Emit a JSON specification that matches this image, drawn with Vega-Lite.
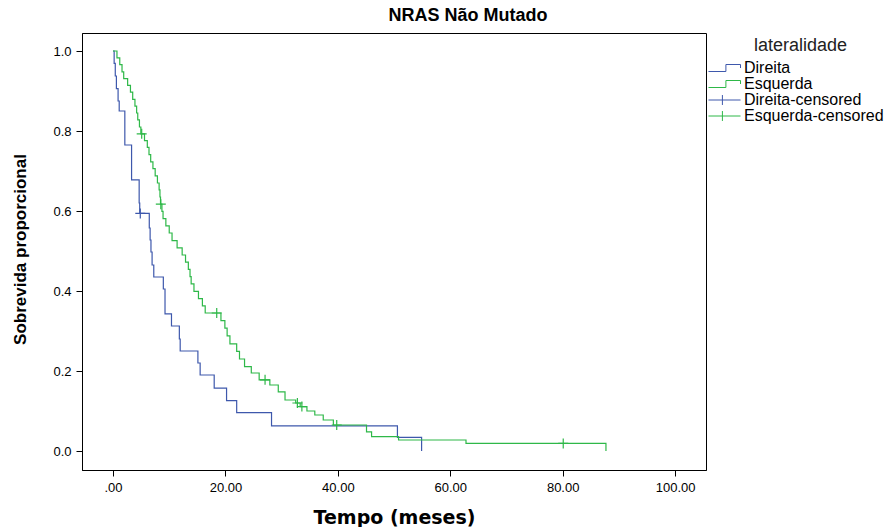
{
  "$schema": "https://vega.github.io/schema/vega-lite/v6.json",
  "autosize": "none",
  "width": 624,
  "height": 437,
  "padding": {"left": 82, "top": 33, "right": 185, "bottom": 57},
  "background": "white",
  "title": {
    "text": "NRAS Não Mutado",
    "font": "Liberation Sans",
    "fontSize": 18,
    "fontWeight": "bold",
    "color": "#000000",
    "anchor": "middle",
    "dx": 74,
    "offset": 8
  },
  "datasets": {
    "curvas": [
      {"grupo": "Direita", "t": 0, "s": 1.0},
      {"grupo": "Direita", "t": 0.2, "s": 0.969},
      {"grupo": "Direita", "t": 0.4, "s": 0.9375},
      {"grupo": "Direita", "t": 0.6, "s": 0.906},
      {"grupo": "Direita", "t": 0.9, "s": 0.875},
      {"grupo": "Direita", "t": 1.1, "s": 0.85},
      {"grupo": "Direita", "t": 2.1, "s": 0.765},
      {"grupo": "Direita", "t": 3.3, "s": 0.678},
      {"grupo": "Direita", "t": 4.65, "s": 0.62},
      {"grupo": "Direita", "t": 4.75, "s": 0.594},
      {"grupo": "Direita", "t": 6.45, "s": 0.5575},
      {"grupo": "Direita", "t": 6.6, "s": 0.5275},
      {"grupo": "Direita", "t": 6.75, "s": 0.4975},
      {"grupo": "Direita", "t": 6.95, "s": 0.465},
      {"grupo": "Direita", "t": 7.25, "s": 0.435},
      {"grupo": "Direita", "t": 8.95, "s": 0.405},
      {"grupo": "Direita", "t": 9.25, "s": 0.343},
      {"grupo": "Direita", "t": 10.4, "s": 0.3125},
      {"grupo": "Direita", "t": 11.8, "s": 0.28},
      {"grupo": "Direita", "t": 11.95, "s": 0.25},
      {"grupo": "Direita", "t": 15.1, "s": 0.22},
      {"grupo": "Direita", "t": 15.5, "s": 0.19},
      {"grupo": "Direita", "t": 18.0, "s": 0.157},
      {"grupo": "Direita", "t": 20.2, "s": 0.126},
      {"grupo": "Direita", "t": 22.0, "s": 0.096},
      {"grupo": "Direita", "t": 28.2, "s": 0.063},
      {"grupo": "Direita", "t": 50.6, "s": 0.034},
      {"grupo": "Direita", "t": 54.9, "s": 0.0},
      {"grupo": "Esquerda", "t": 0, "s": 1.0},
      {"grupo": "Esquerda", "t": 0.7, "s": 0.983},
      {"grupo": "Esquerda", "t": 1.2, "s": 0.966},
      {"grupo": "Esquerda", "t": 1.6, "s": 0.948},
      {"grupo": "Esquerda", "t": 1.9, "s": 0.931},
      {"grupo": "Esquerda", "t": 2.6, "s": 0.914},
      {"grupo": "Esquerda", "t": 3.1, "s": 0.897},
      {"grupo": "Esquerda", "t": 3.5, "s": 0.879},
      {"grupo": "Esquerda", "t": 3.9, "s": 0.862},
      {"grupo": "Esquerda", "t": 4.2, "s": 0.845},
      {"grupo": "Esquerda", "t": 4.4, "s": 0.828},
      {"grupo": "Esquerda", "t": 4.7, "s": 0.81},
      {"grupo": "Esquerda", "t": 4.95, "s": 0.793},
      {"grupo": "Esquerda", "t": 5.6, "s": 0.776},
      {"grupo": "Esquerda", "t": 6.1, "s": 0.759},
      {"grupo": "Esquerda", "t": 6.4, "s": 0.741},
      {"grupo": "Esquerda", "t": 6.7, "s": 0.723},
      {"grupo": "Esquerda", "t": 7.1, "s": 0.706},
      {"grupo": "Esquerda", "t": 7.5, "s": 0.688},
      {"grupo": "Esquerda", "t": 7.9, "s": 0.67},
      {"grupo": "Esquerda", "t": 8.2, "s": 0.653},
      {"grupo": "Esquerda", "t": 8.35, "s": 0.635},
      {"grupo": "Esquerda", "t": 8.45, "s": 0.617},
      {"grupo": "Esquerda", "t": 8.7, "s": 0.599},
      {"grupo": "Esquerda", "t": 8.9, "s": 0.581},
      {"grupo": "Esquerda", "t": 9.4, "s": 0.563},
      {"grupo": "Esquerda", "t": 10.0, "s": 0.545},
      {"grupo": "Esquerda", "t": 10.5, "s": 0.526},
      {"grupo": "Esquerda", "t": 11.4, "s": 0.508},
      {"grupo": "Esquerda", "t": 12.3, "s": 0.49},
      {"grupo": "Esquerda", "t": 12.9, "s": 0.472},
      {"grupo": "Esquerda", "t": 13.4, "s": 0.454},
      {"grupo": "Esquerda", "t": 13.7, "s": 0.436},
      {"grupo": "Esquerda", "t": 13.9, "s": 0.418},
      {"grupo": "Esquerda", "t": 14.4, "s": 0.399},
      {"grupo": "Esquerda", "t": 15.2, "s": 0.381},
      {"grupo": "Esquerda", "t": 15.9, "s": 0.363},
      {"grupo": "Esquerda", "t": 16.4, "s": 0.345},
      {"grupo": "Esquerda", "t": 19.2, "s": 0.326},
      {"grupo": "Esquerda", "t": 19.9, "s": 0.307},
      {"grupo": "Esquerda", "t": 20.3, "s": 0.288},
      {"grupo": "Esquerda", "t": 20.8, "s": 0.268},
      {"grupo": "Esquerda", "t": 22.0, "s": 0.249},
      {"grupo": "Esquerda", "t": 22.5, "s": 0.23},
      {"grupo": "Esquerda", "t": 23.4, "s": 0.211},
      {"grupo": "Esquerda", "t": 24.6, "s": 0.195},
      {"grupo": "Esquerda", "t": 26.0, "s": 0.178},
      {"grupo": "Esquerda", "t": 27.9, "s": 0.165},
      {"grupo": "Esquerda", "t": 29.4, "s": 0.148},
      {"grupo": "Esquerda", "t": 30.6, "s": 0.1275},
      {"grupo": "Esquerda", "t": 32.5, "s": 0.12},
      {"grupo": "Esquerda", "t": 33.3, "s": 0.111},
      {"grupo": "Esquerda", "t": 34.5, "s": 0.1},
      {"grupo": "Esquerda", "t": 35.9, "s": 0.09},
      {"grupo": "Esquerda", "t": 37.4, "s": 0.0775},
      {"grupo": "Esquerda", "t": 39.2, "s": 0.065},
      {"grupo": "Esquerda", "t": 45.1, "s": 0.048},
      {"grupo": "Esquerda", "t": 46.0, "s": 0.036},
      {"grupo": "Esquerda", "t": 50.8, "s": 0.0275},
      {"grupo": "Esquerda", "t": 62.8, "s": 0.019},
      {"grupo": "Esquerda", "t": 87.7, "s": 0.0}
    ],
    "censurados": [
      {"grupo": "Direita-censored", "t": 4.85, "s": 0.594},
      {"grupo": "Esquerda-censored", "t": 5.1, "s": 0.793},
      {"grupo": "Esquerda-censored", "t": 8.5, "s": 0.617},
      {"grupo": "Esquerda-censored", "t": 18.45, "s": 0.345},
      {"grupo": "Esquerda-censored", "t": 27.05, "s": 0.178},
      {"grupo": "Esquerda-censored", "t": 32.8, "s": 0.12},
      {"grupo": "Esquerda-censored", "t": 33.6, "s": 0.111},
      {"grupo": "Esquerda-censored", "t": 39.8, "s": 0.065},
      {"grupo": "Esquerda-censored", "t": 80.1, "s": 0.019}
    ]
  },
  "encoding": {
    "x": {
      "field": "t",
      "type": "quantitative",
      "scale": {"domain": [-5.52, 105.5], "nice": false, "zero": false},
      "axis": {
        "title": "Tempo (meses)",
        "values": [0, 20, 40, 60, 80, 100],
        "labelExpr": "datum.value == 0 ? '.00' : format(datum.value, '.2f')",
        "grid": false,
        "domainColor": "#000000",
        "tickColor": "#000000",
        "tickSize": 6,
        "labelPadding": 5,
        "labelFont": "Liberation Sans",
        "labelFontSize": 13,
        "labelColor": "#000000",
        "titleFont": "DejaVu Sans",
        "titleFontSize": 19,
        "titleFontWeight": "bold",
        "titleColor": "#000000",
        "titleBaseline": "middle",
        "titleY": 47
      }
    },
    "y": {
      "field": "s",
      "type": "quantitative",
      "scale": {"domain": [-0.0475, 1.045], "nice": false, "zero": false},
      "axis": {
        "title": "Sobrevida proporcional",
        "values": [0, 0.2, 0.4, 0.6, 0.8, 1.0],
        "format": ".1f",
        "grid": false,
        "domainColor": "#000000",
        "tickColor": "#000000",
        "tickSize": 6,
        "labelPadding": 5,
        "labelFont": "Liberation Sans",
        "labelFontSize": 13,
        "labelColor": "#000000",
        "titleFont": "Liberation Sans",
        "titleFontSize": 17,
        "titleFontWeight": "bold",
        "titleColor": "#000000",
        "titleAngle": -90,
        "titleAlign": "center",
        "titleBaseline": "middle",
        "titleX": -62,
        "titleY": 216
      }
    },
    "color": {
      "field": "grupo",
      "type": "nominal",
      "scale": {
        "domain": ["Direita", "Esquerda", "Direita-censored", "Esquerda-censored"],
        "range": ["#3E58AC", "#2EB848", "#3E58AC", "#2EB848"]
      },
      "legend": {
        "title": "lateralidade",
        "orient": "none",
        "legendX": 634.5,
        "legendY": 4,
        "padding": 0,
        "titleAnchor": "middle",
        "titleFont": "Liberation Sans",
        "titleFontSize": 18,
        "titleFontWeight": "normal",
        "titleColor": "#222222",
        "titlePadding": 5,
        "labelFont": "Liberation Sans",
        "labelFontSize": 16,
        "labelColor": "#000000",
        "labelOffset": 11.5,
        "symbolSize": 196,
        "rowPadding": -0.7,
        "encode": {
          "symbols": {
            "update": {
              "shape": {"signal": "indexof(datum.value, 'censored') >= 0 ? 'M-2.29,0H2.29M-0.3,-0.71V0.71' : 'M-2.29,0.5H0.2V-0.5H2.29V0'"},
              "fill": {"value": "transparent"},
              "strokeWidth": {"value": 1},
              "size": {"value": 196}
            }
          }
        }
      }
    }
  },
  "layer": [
    {
      "data": {"name": "curvas"},
      "mark": {"type": "line", "interpolate": "step-after", "strokeWidth": 1.2}
    },
    {
      "data": {"name": "censurados"},
      "mark": {"type": "point", "shape": "M-1,0H1M0,-1V1", "size": 100, "filled": false, "strokeWidth": 1.2, "opacity": 1}
    }
  ],
  "config": {
    "view": {"stroke": "#000000", "strokeWidth": 1}
  }
}
